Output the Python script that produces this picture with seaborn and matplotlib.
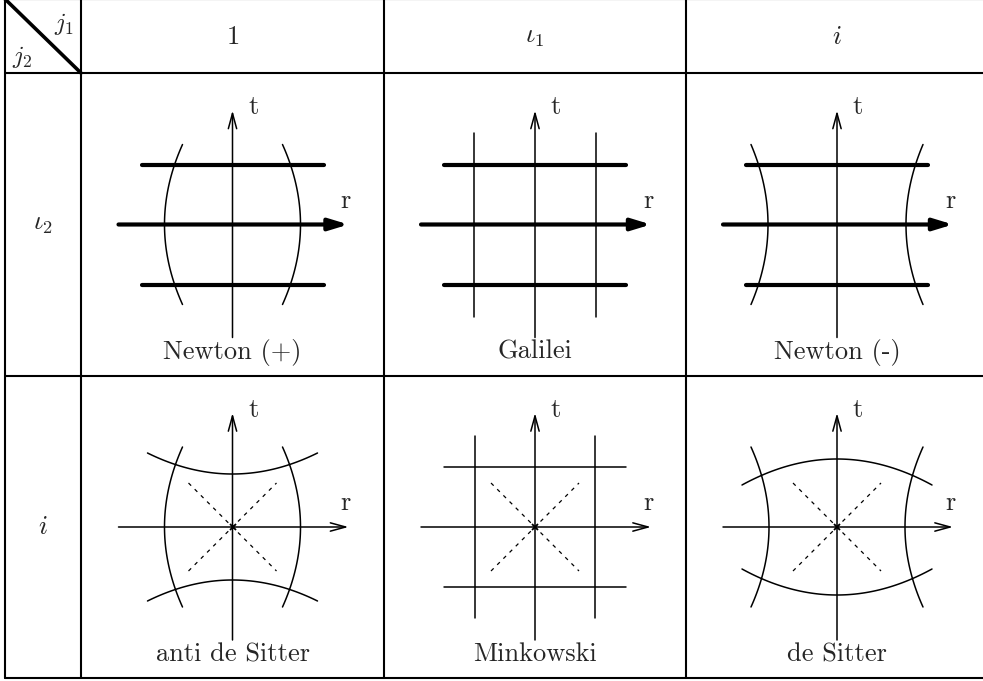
import numpy as np
import matplotlib.pyplot as plt
import seaborn as sns

# header labels of the table
col_labels = [r'$1$', r'$\iota_1$', r'$i$']
row_labels = [r'$\iota_2$', r'$i$']
corner_labels = [r'$j_1$', r'$j_2$']
cell_names = [['Newton (+)', 'Galilei', 'Newton (-)'],
              ['anti de Sitter', 'Minkowski', 'de Sitter']]

# r = const curves: (half height, offset at the ends, offset at t = 0)
r_curves = [[(80, 50, 68), (92, 61, 61), (80, 86, 69)],
            [(80, 50, 68), (91, 60, 60), (80, 86, 68)]]
# t = const curves: (half width, offset at the ends, offset at r = 0)
t_curves = [[(91, 60, 60), (91, 60, 60), (91, 60, 60)],
            [(85, 74, 53), (91, 60, 60), (95, 42, 68)]]
# light cone half extent, only for the second row
cone = 44

sns.set_theme(style='white')
plt.rcParams['mathtext.fontset'] = 'cm'
plt.rcParams['font.family'] = ['cmr10', 'DejaVu Sans']
plt.rcParams['axes.unicode_minus'] = False

col_edges = [5, 81, 384, 686, 988]
row_edges = [-1, 73, 376, 678]

fig = plt.figure(figsize=(9.83, 6.81), dpi=100)
ax = fig.add_axes([0, 0, 1, 1])
ax.set_xlim(0, 983)
ax.set_ylim(681, 0)
ax.axis('off')


def arrow(ax, x0, y0, x1, y1, thick=False):
    if thick:
        props = dict(arrowstyle='-|>,head_length=1.15,head_width=0.35', lw=3,
                     color='black', shrinkA=0, shrinkB=0, mutation_scale=10,
                     capstyle='round')
    else:
        props = dict(arrowstyle='->,head_length=1.1,head_width=0.3', lw=1.1,
                     color='black', shrinkA=0, shrinkB=0, mutation_scale=10)
    ax.annotate('', xy=(x1, y1), xytext=(x0, y0), arrowprops=props)


def draw_cell(ax, cx, cy, name, rc, tc, row):
    s = np.linspace(-1, 1, 80)
    thick = row == 0

    h, end, mid = rc
    for sign in (-1, 1):
        sns.lineplot(x=cx + sign * (mid + (end - mid) * s ** 2), y=cy + h * s,
                     sort=False, estimator=None, color='black', lw=1.1, ax=ax)

    w, end, mid = tc
    for sign in (-1, 1):
        line = sns.lineplot(x=cx + w * s, y=cy + sign * (mid + (end - mid) * s ** 2),
                            sort=False, estimator=None, color='black',
                            lw=3 if thick else 1.1, ax=ax)
        line.lines[-1].set_solid_capstyle('round')

    if not thick:
        for sign in (-1, 1):
            sns.lineplot(x=[cx - cone, cx + cone], y=[cy - sign * cone, cy + sign * cone],
                         sort=False, estimator=None, color='black', lw=0.9,
                         ax=ax).lines[-1].set_dashes((3, 4))
        ax.plot([cx], [cy], marker='x', ms=4, mew=1.3, color='black')

    # axes
    arrow(ax, cx, cy + 113, cx, cy - 114)
    arrow(ax, cx - 114, cy, cx + 116, cy, thick=thick)
    ax.text(cx + 21, cy - 110, 't', fontsize=19, ha='center', va='baseline')
    ax.text(cx + 113, cy - 17, 'r', fontsize=19, ha='center', va='baseline')
    ax.text(cx, cy + 134, name, fontsize=19, ha='center', va='baseline')


# table grid
for x in col_edges:
    ax.plot([x, x], [row_edges[0], row_edges[-1]], color='black', lw=1.5)
for y in row_edges:
    ax.plot([col_edges[0], col_edges[-1]], [y, y], color='black', lw=1.5)
ax.plot([col_edges[0], col_edges[1]], [row_edges[0], row_edges[1]],
        color='black', lw=2.6)

ax.text(64, 24, corner_labels[0], fontsize=18, ha='center', va='center')
ax.text(22, 57, corner_labels[1], fontsize=18, ha='center', va='center')

for j, lab in enumerate(col_labels):
    cx = (col_edges[j + 1] + col_edges[j + 2]) / 2
    ax.text(cx, 37, lab, fontsize=19, ha='center', va='center')

for i, lab in enumerate(row_labels):
    cy = (row_edges[i + 1] + row_edges[i + 2]) / 2
    ax.text(43, cy, lab, fontsize=19, ha='center', va='center')
    for j in range(3):
        cx = (col_edges[j + 1] + col_edges[j + 2]) / 2
        draw_cell(ax, cx, cy, cell_names[i][j], r_curves[i][j], t_curves[i][j], i)

if ax.get_legend() is not None:
    ax.get_legend().remove()

fig.savefig('out.png', dpi=100)
